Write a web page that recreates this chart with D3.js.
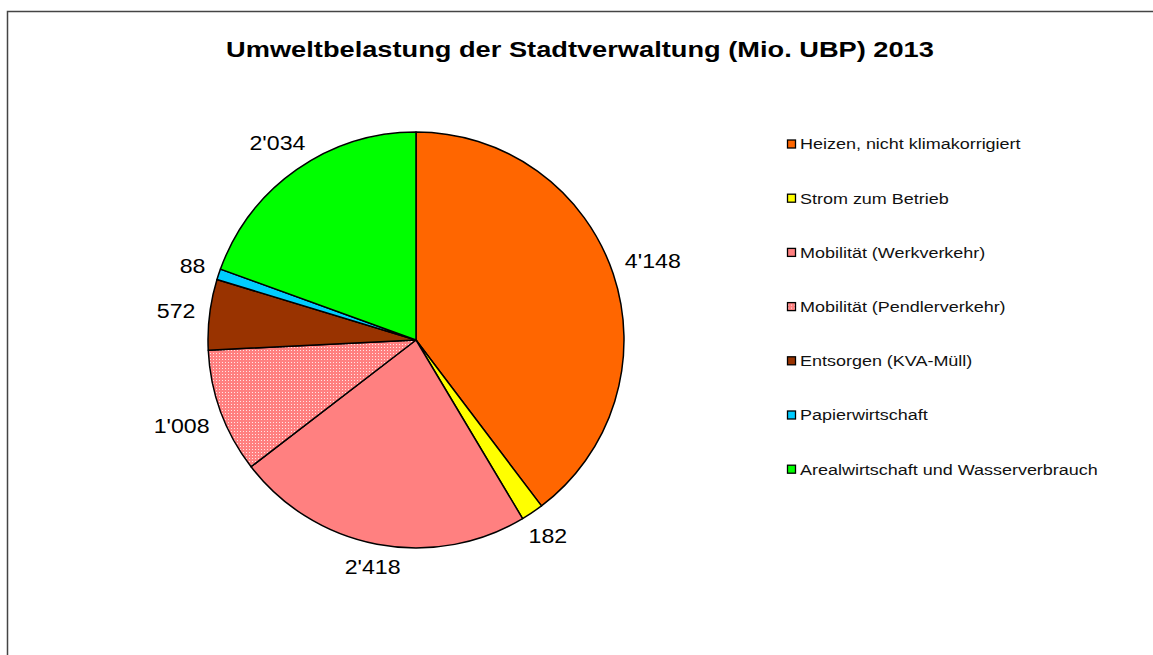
<!DOCTYPE html>
<html>
<head>
<meta charset="utf-8">
<script src="https://cdn.jsdelivr.net/npm/d3@7"></script>
<style>
  body { margin: 0; background: #fff; }
  text { font-family: Arial, "Liberation Sans", sans-serif; }
</style>
</head>
<body>
<svg id="chart"></svg>
<script>
// chart data
const categories = ['Heizen, nicht klimakorrigiert', 'Strom zum Betrieb', 'Mobilität (Werkverkehr)',
  'Mobilität (Pendlerverkehr)', 'Entsorgen (KVA-Müll)', 'Papierwirtschaft', 'Arealwirtschaft und Wasserverbrauch'];
const values = [4148, 182, 2418, 1008, 572, 88, 2034];
const colors = ['#FF6600', '#FFFF00', '#FF8080', 'url(#dots)', '#993300', '#00CCFF', '#00FF00'];
const title = 'Umweltbelastung der Stadtverwaltung (Mio. UBP) 2013';

const width = 1153, height = 655;
const cx = 416, cy = 340, r = 208;

const svg = d3.select('#chart')
  .attr('width', width)
  .attr('height', height);

// dotted fill for Pendlerverkehr
const pat = svg.append('defs').append('pattern')
  .attr('id', 'dots')
  .attr('patternUnits', 'userSpaceOnUse')
  .attr('width', 3)
  .attr('height', 3);
pat.append('rect').attr('width', 3).attr('height', 3).attr('fill', '#FF8080');
pat.append('rect').attr('x', 1).attr('y', 1).attr('width', 1).attr('height', 1).attr('fill', '#FFE6E6');

// chart frame
svg.append('rect')
  .attr('x', 7.5).attr('y', 11.5)
  .attr('width', width).attr('height', height)
  .attr('fill', 'none')
  .attr('stroke', '#444')
  .attr('stroke-width', 1.5);

// text in the original is a bit wider than Arial, so stretch horizontally
svg.append('text')
  .attr('transform', 'translate(580,57) scale(1.21,1)')
  .attr('text-anchor', 'middle')
  .attr('font-size', 22.5)
  .attr('font-weight', 'bold')
  .text(title);

// pie
const pie = d3.pie().sort(null).value(d => d);
const arcs = pie(values);
const arc = d3.arc().innerRadius(0).outerRadius(r);

const g = svg.append('g').attr('transform', `translate(${cx},${cy})`);

g.selectAll('path')
  .data(arcs)
  .enter()
  .append('path')
  .attr('d', arc)
  .attr('fill', (d, i) => colors[i])
  .attr('stroke', '#000')
  .attr('stroke-width', 1.5)
  .attr('stroke-linejoin', 'round');

// value labels, box kept just outside the pie
const fmt = v => d3.format(',')(v).replace(/,/g, "'");
const labelScale = 1.13, gap = 14;
g.selectAll('.lbl')
  .data(arcs)
  .enter()
  .append('text')
  .attr('class', 'lbl')
  .attr('text-anchor', 'middle')
  .attr('dy', '0.36em')
  .attr('font-size', 20.5)
  .attr('fill', '#000')
  .text(d => fmt(d.data))
  .each(function (d) {
    const a = (d.startAngle + d.endAngle) / 2;
    const s = Math.sin(a), c = Math.cos(a);
    const w = this.getBBox().width * labelScale, h = 8;
    const R = r + gap + (w / 2) * Math.abs(s) + (h / 2) * Math.abs(c);
    d3.select(this).attr('transform', `translate(${R * s},${-R * c}) scale(${labelScale},1)`);
  });

// legend
const legend = svg.append('g').attr('transform', 'translate(787,144)');
const item = legend.selectAll('.item')
  .data(categories)
  .enter()
  .append('g')
  .attr('class', 'item')
  .attr('transform', (d, i) => `translate(0,${i * 54.2})`);

item.append('rect')
  .attr('x', 0.5).attr('y', -4)
  .attr('width', 8).attr('height', 8)
  .attr('fill', (d, i) => colors[i])
  .attr('stroke', '#000')
  .attr('stroke-width', 1.3);

item.append('text')
  .attr('transform', 'translate(13,0) scale(1.16,1)')
  .attr('dy', '0.35em')
  .attr('font-size', 15.5)
  .attr('fill', '#111')
  .text(d => d);
</script>
</body>
</html>
